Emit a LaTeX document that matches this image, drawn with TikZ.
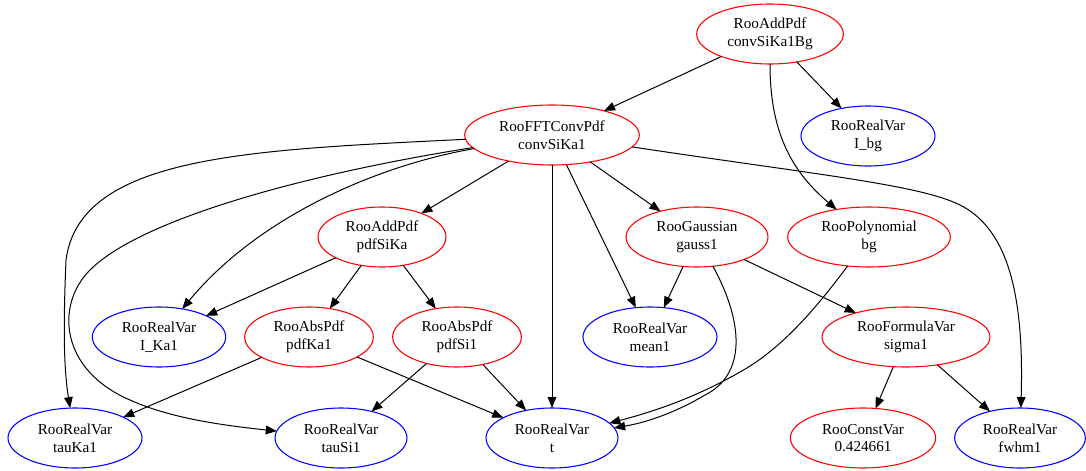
\documentclass[tikz,border=0pt]{standalone}
\usepackage{fontspec}
\setmainfont{Liberation Serif}
\usetikzlibrary{shapes.geometric,arrows.meta}
\begin{document}
\begin{tikzpicture}[x=0.75pt,y=-0.75pt,
  gnode/.style={ellipse, line width=0.8pt, inner sep=0pt, outer sep=0pt,
    minimum height=45pt, align=center, font=\fontsize{11.4}{13.3}\selectfont},
  rnode/.style={gnode, draw=red},
  bnode/.style={gnode, draw=blue},
  arr/.style={draw=black, line width=0.75pt, -{Triangle[length=8.25pt,width=6.5pt]}}]
\useasboundingbox (0,0) rectangle (1086,471);
% nodes
\node[rnode, minimum width=110pt] (convSiKa1Bg) at (770,34) {RooAddPdf\\convSiKa1Bg};
\node[bnode, minimum width=100.5pt] (Ibg) at (868,136) {RooRealVar\\I\_bg};
\node[rnode, minimum width=131pt] (convSiKa1) at (552,135) {RooFFTConvPdf\\convSiKa1};
\node[rnode, minimum width=96pt] (pdfSiKa) at (382,237) {RooAddPdf\\pdfSiKa};
\node[rnode, minimum width=106.5pt] (gauss1) at (697,237) {RooGaussian\\gauss1};
\node[rnode, minimum width=122pt] (bg) at (869,237) {RooPolynomial\\bg};
\node[bnode, minimum width=100pt] (IKa1) at (159,337) {RooRealVar\\I\_Ka1};
\node[rnode, minimum width=96.5pt] (pdfKa1) at (309,337) {RooAbsPdf\\pdfKa1};
\node[rnode, minimum width=96.5pt] (pdfSi1) at (457,337) {RooAbsPdf\\pdfSi1};
\node[bnode, minimum width=100.5pt] (mean1) at (650,337) {RooRealVar\\mean1};
\node[rnode, minimum width=126pt] (sigma1) at (906,337) {RooFormulaVar\\sigma1};
\node[bnode, minimum width=100.5pt] (tauKa1) at (75,438) {RooRealVar\\tauKa1};
\node[bnode, minimum width=99pt] (tauSi1) at (341,438) {RooRealVar\\tauSi1};
\node[bnode, minimum width=99pt] (t) at (552,438) {RooRealVar\\t};
\node[rnode, minimum width=109pt] (cvar) at (863,438) {RooConstVar\\0.424661};
\node[bnode, minimum width=98pt] (fwhm1) at (1020,438) {RooRealVar\\fwhm1};
% edges
\draw[arr] (convSiKa1Bg) -- (convSiKa1);
\draw[arr] (convSiKa1Bg) -- (Ibg);
\draw[arr] (convSiKa1Bg) .. controls (770,130) and (790,170) .. (bg);
\draw[arr] (convSiKa1) -- (pdfSiKa);
\draw[arr] (convSiKa1) -- (gauss1);
\draw[arr] (convSiKa1) -- (t);
\draw[arr] (convSiKa1) -- (mean1);
\draw[arr] (convSiKa1) .. controls (380,165) and (260,215) .. (IKa1);
\draw[arr] (convSiKa1) .. controls (250,150) and (80,155) .. (66,260)
  .. controls (63,330) and (64,370) .. (tauKa1);
\draw[arr] (convSiKa1) .. controls (300,175) and (140,220) .. (90,270)
  .. controls (55,305) and (60,370) .. (130,400)
  .. controls (170,418) and (220,425) .. (tauSi1);
\draw[arr] (convSiKa1) .. controls (820,175) and (920,185) .. (960,205)
  .. controls (1010,230) and (1024,300) .. (fwhm1);
\draw[arr] (pdfSiKa) -- (IKa1);
\draw[arr] (pdfSiKa) -- (pdfKa1);
\draw[arr] (pdfSiKa) -- (pdfSi1);
\draw[arr] (gauss1) -- (mean1);
\draw[arr] (gauss1) -- (sigma1);
\draw[arr] (gauss1) .. controls (745,325) and (745,375) .. (705,395)
  .. controls (680,410) and (650,422) .. (t);
\draw[arr] (bg) .. controls (815,310) and (780,350) .. (740,372)
  .. controls (700,395) and (660,410) .. (t);
\draw[arr] (pdfKa1) -- (tauKa1);
\draw[arr] (pdfKa1) -- (t);
\draw[arr] (pdfSi1) -- (tauSi1);
\draw[arr] (pdfSi1) -- (t);
\draw[arr] (sigma1) -- (cvar);
\draw[arr] (sigma1) -- (fwhm1);
\end{tikzpicture}
\end{document}
